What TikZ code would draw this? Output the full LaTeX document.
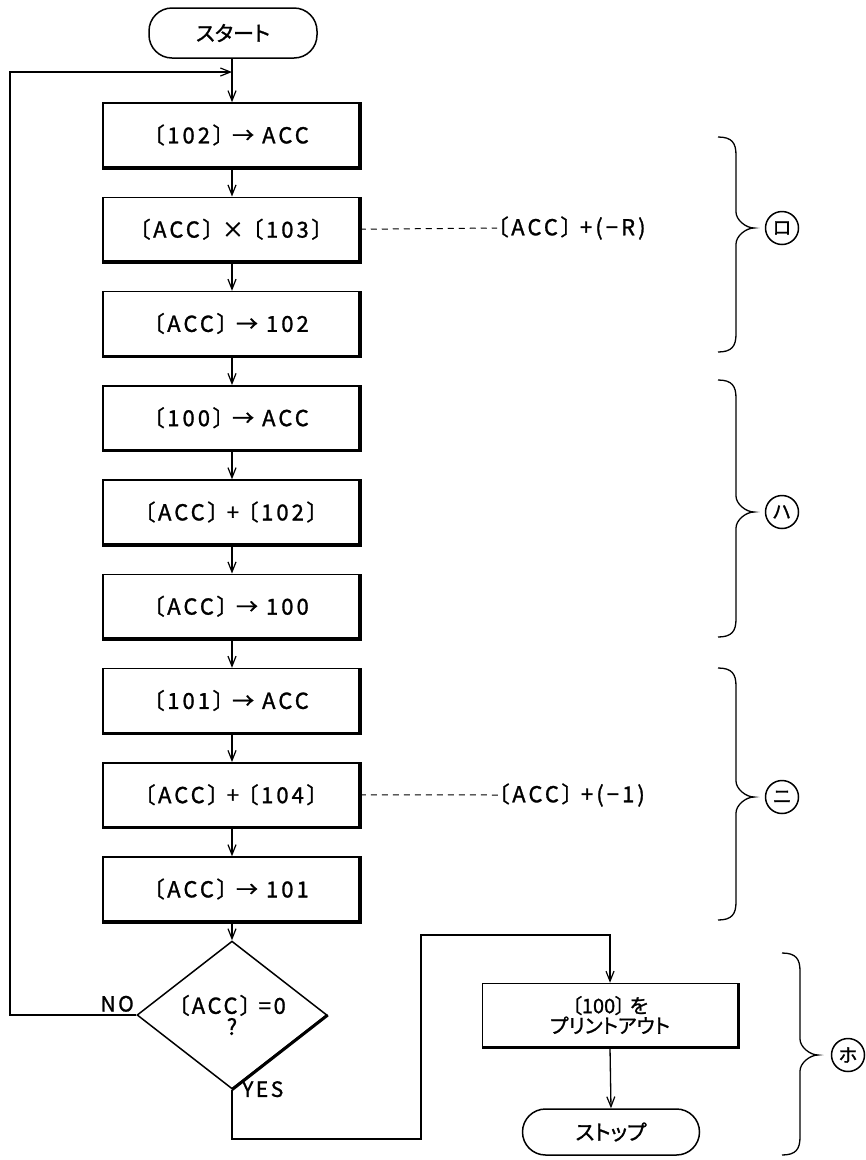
\documentclass[tikz,border=0pt]{standalone}
\usepackage{fontspec}
\setmainfont{Noto Sans CJK JP}[RawFeature=+palt]
\usetikzlibrary{arrows.meta,shapes.geometric,calc}
\newcommand{\medfont}{\addfontfeature{FakeBold=1.2}}
\tikzset{
  procbox/.style={draw, line width=1.5pt, minimum width=256pt, minimum height=64pt, inner sep=0pt,
    font=\fontsize{22}{24}\selectfont\medfont\addfontfeature{LetterSpace=14}},
  termbox/.style={draw, line width=1.5pt, rounded corners=23pt, inner sep=0pt,
    font=\fontsize{21}{22}\selectfont\medfont},
  flow/.style={line width=1.3pt, -{Straight Barb[length=10pt,width=8pt,line width=1.2pt]}},
  plainline/.style={line width=1.3pt},
  dashline/.style={line width=1pt, dash pattern=on 6pt off 5pt},
  notetext/.style={inner sep=0pt, font=\fontsize{22}{24}\selectfont\medfont\addfontfeature{LetterSpace=14}},
  lbl/.style={inner sep=0pt, font=\fontsize{21}{22}\selectfont\medfont\addfontfeature{LetterSpace=12}},
  circmark/.style={draw, circle, line width=1.5pt, minimum size=33pt, inner sep=0pt,
    font=\fontsize{19}{20}\selectfont\medfont},
  bracestyle/.style={line width=1.3pt},
  shadowedge/.style={line width=3.5pt}
}
\newcommand{\mybrace}[4]{% x, top, mid, bottom
  \draw[bracestyle] (#1-18,#2) .. controls (#1-4,#2) and (#1,#2+6) .. (#1,#2+18)
    -- (#1,#3-16) .. controls (#1,#3-8) and (#1+10,#3) .. (#1+18,#3)
    .. controls (#1+10,#3) and (#1,#3+8) .. (#1,#3+16)
    -- (#1,#4-18) .. controls (#1,#4-6) and (#1-4,#4) .. (#1-18,#4);
}
\begin{document}
\begin{tikzpicture}[x=1pt,y=-1pt]
\useasboundingbox (0,0) rectangle (866,1160);
\fill[white] (0,0) rectangle (866,1160);

% terminals
\node[termbox, minimum width=168pt, minimum height=50pt] (start) at (233,33) {スタート};

% process boxes
\node[procbox] (b1) at (231,135)    {〔102〕 → ACC};
\node[procbox] (b2) at (231,229.25) {〔ACC〕 × 〔103〕};
\node[procbox] (b3) at (231,323.5)  {〔ACC〕 → 102};
\node[procbox] (b4) at (231,417.75) {〔100〕 → ACC};
\node[procbox] (b5) at (231,512)    {〔ACC〕 + 〔102〕};
\node[procbox] (b6) at (231,606.25) {〔ACC〕 → 100};
\node[procbox] (b7) at (231,700.5)  {〔101〕 → ACC};
\node[procbox] (b8) at (231,794.75) {〔ACC〕 + 〔104〕};
\node[procbox] (b9) at (231,889)    {〔ACC〕 → 101};

\foreach \n in {b1,b2,b3,b4,b5,b6,b7,b8,b9}{
  \draw[shadowedge] (\n.south west) -- (\n.south east) -- (\n.north east);
}

% decision
\node[draw, diamond, line width=1.5pt, minimum width=190pt, minimum height=125pt, inner sep=0pt,
      align=center, font=\fontsize{22}{21}\selectfont\medfont\addfontfeature{LetterSpace=12}] (d) at (232,1015)
      {〔ACC〕 =0\\?};
\draw[line width=3pt] (d.east) -- (d.south);

% print box and stop
\node[procbox, minimum width=255pt, minimum height=63pt, align=center,
      font=\fontsize{20}{20}\selectfont\medfont] (p) at (610,1015) {〔100〕 を\\プリントアウト};
\draw[shadowedge] (p.south west) -- (p.south east) -- (p.north east);
\node[termbox, minimum width=177pt, minimum height=46pt] (s) at (611,1132) {ストップ};

% main flow
\coordinate (join) at (232,72);
\draw[plainline] (start.south -| join) -- (join);
\draw[flow] (join) -- (b1.north -| join);
\foreach \a/\b in {b1/b2,b2/b3,b3/b4,b4/b5,b5/b6,b6/b7,b7/b8,b8/b9}{
  \draw[flow] (\a.south -| join) -- (\b.north -| join);
}
\draw[flow] (b9.south -| join) -- (d.north);

% loop back (NO)
\draw[flow] (d.west) -- (10,1015) -- (10,72) -- (join);
\node[lbl, anchor=south east] (no) at (134,1012) {NO};

% YES branch
\draw[flow] (d.south) -- (232,1139) -- (421,1139) -- (421,935) -| (p.north);
\node[lbl, anchor=north west] (yes) at (242,1081) {YES};
\draw[flow] (p.south) -- (s.north);

% notes
\node[notetext, anchor=west] (n1) at (497,228) {〔ACC〕 +(−R)};
\draw[dashline] (b2.east) -- (n1.west);
\node[notetext, anchor=west] (n2) at (498,795) {〔ACC〕 +(−1)};
\draw[dashline] (b8.east) -- (n2.west);

% braces and marks
\mybrace{736}{137}{228}{352}
\node[circmark] (m1) at (782,228) {ロ};
\mybrace{736}{380}{512}{637}
\node[circmark] (m2) at (782,512) {ハ};
\mybrace{736}{668}{797}{920}
\node[circmark] (m3) at (782,797) {ニ};
\mybrace{800}{953}{1055}{1155}
\node[circmark] (m4) at (848,1055) {ホ};
\end{tikzpicture}
\end{document}
